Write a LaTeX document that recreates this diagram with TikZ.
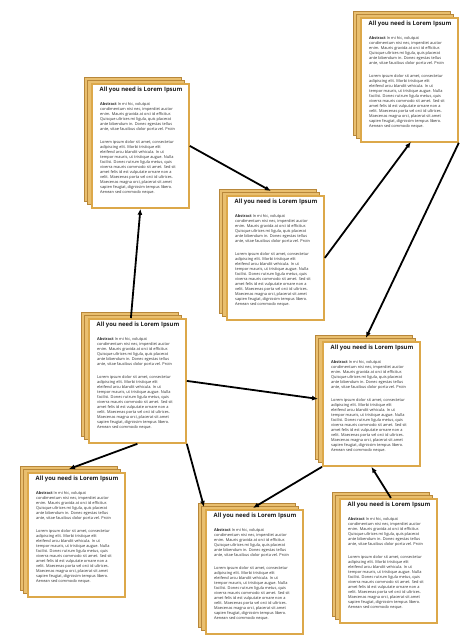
\documentclass[tikz,border=0pt]{standalone}
\usepackage{fontspec}
\setmainfont{Open Sans}
\usetikzlibrary{arrows.meta,calc}

\definecolor{pagegold}{HTML}{DCA84A}
\definecolor{pagegolddark}{HTML}{B8873A}
\definecolor{pagefill}{HTML}{E9BF6F}
\definecolor{inktext}{HTML}{2E2E2E}
\definecolor{inktitle}{HTML}{1E1E1E}

% Shared text of every paper card
\newcommand\loremtitle{All you need is Lorem Ipsum}
\newcommand\loremabstract{\textbf{Abstract} In mi hic, volutpat\\
condimentum nisi nec, imperdiet auctor\\
enim. Mauris gravida at orci id efficitur.\\
Quisque ultrices mi ligula, quis placerat\\
ante bibendum in. Donec egestas tellus\\
ante, vitae faucibus dolor porta vel. Proin}
\newcommand\lorembody{Lorem ipsum dolor sit amet, consectetur\\
adipiscing elit. Morbi tristique elit\\
eleifend arcu blandit vehicula. In ut\\
tempor mauris, ut tristique augue. Nulla\\
facilisi. Donec rutrum ligula metus, quis\\
viverra mauris commodo sit amet. Sed sit\\
amet felis id est vulputate ornare non a\\
velit. Maecenas porta vel orci id ultrices.\\
Maecenas magna orci, placerat sit amet\\
sapien feugiat, dignissim tempus libero.\\
Aenean sed commodo neque.}

\tikzset{
  backsheet/.style={fill=pagefill, draw=pagegolddark, line width=0.6pt},
  frontsheet/.style={fill=white, draw=pagegold, line width=1.8pt,
    minimum width=97pt, minimum height=124pt, inner sep=0pt},
  cardtitle/.style={anchor=west, inner sep=0pt, text=inktitle,
    font=\fontsize{5.9}{6.5}\selectfont\bfseries},
  cardtext/.style={anchor=north west, inner sep=0pt, align=left, text=inktext,
    font=\fontsize{3.9}{5}\selectfont},
  link/.style={line width=1.8pt, -{Latex[length=6pt,width=5pt]}}
}

% A stack of three sheets; the front sheet is the named node
\newcommand\paperstack[3]{%
  \draw[backsheet] (#2-7,#3-6) rectangle ++(97,124);
  \draw[backsheet] (#2-3.5,#3-3) rectangle ++(97,124);
  \node[frontsheet, anchor=north west] (#1) at (#2,#3) {};
  \node[cardtitle] (#1-title) at ($(#1.north west)+(8.5,7)$) {\loremtitle};
  \node[cardtext] (#1-abs) at ($(#1.north west)+(9,19.5)$) {\loremabstract};
  \node[cardtext] (#1-body) at ($(#1.north west)+(9,57)$) {\lorembody};
}

\begin{document}
\begin{tikzpicture}[x=1pt, y=-1pt]
  \fill[white] (0,0) rectangle (462,642);
  \useasboundingbox (0,0) rectangle (462,642);

  \paperstack{c1}{91}{83}
  \paperstack{c2}{226}{195}
  \paperstack{c3}{360}{17}
  \paperstack{c4}{322}{341}
  \paperstack{c5}{88}{318}
  \paperstack{c6}{27}{472}
  \paperstack{c7}{205}{509}
  \paperstack{c8}{339}{498}

  \draw[link] ([xshift=-6.5pt]c5.north) -- (c1.south);
  \draw[link] (c1.east) -- ([xshift=-4.5pt,yshift=4pt]c2.north);
  \draw[link] (c2.east) -- ([xshift=1.5pt,yshift=1pt]c3.south);
  \draw[link] (c3.south east) -- ([xshift=-5.5pt,yshift=3pt]c4.north);
  \draw[link] (c5.east) -- ([xshift=-4pt,yshift=5pt]c4.west);
  \draw[link] (c5.south east) -- ([xshift=-1pt,yshift=2pt]c7.north west);
  \draw[link] (c4.south west) -- ([xshift=-1.5pt,yshift=1pt]c7.north);
  \draw[link] (c5.south) -- ([xshift=-7.5pt,yshift=3pt]c6.north);
  \draw[link] ([xshift=2.5pt]c8.north) -- (c4.south);
\end{tikzpicture}
\end{document}
